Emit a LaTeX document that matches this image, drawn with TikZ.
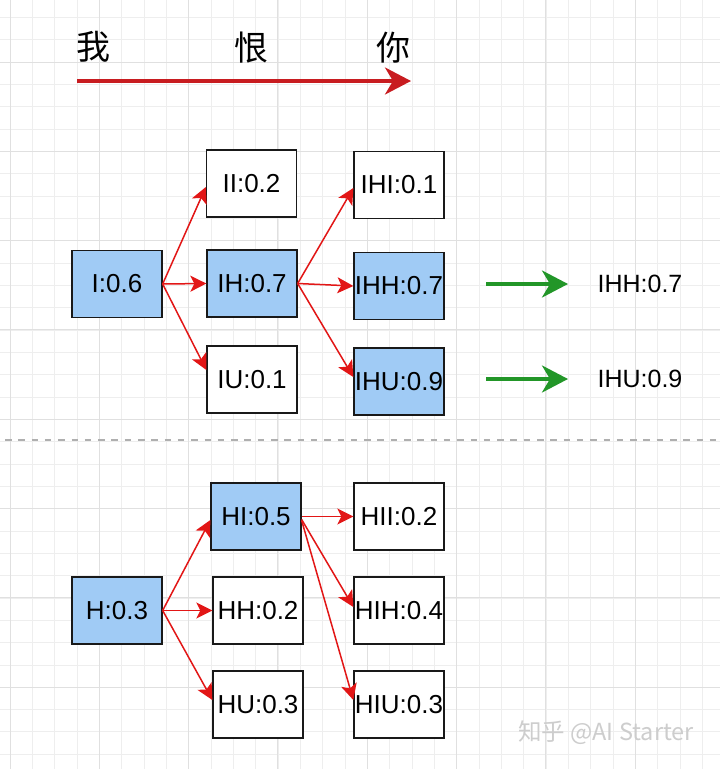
\documentclass[tikz,border=0pt]{standalone}
\usepackage{fontspec}
\setmainfont{Liberation Sans}
\newfontfamily\cjkfont{Noto Sans CJK SC}
\usetikzlibrary{arrows.meta,calc}
\definecolor{boxblue}{RGB}{160,203,245}
\definecolor{arrowred}{RGB}{226,22,22}
\definecolor{titlered}{RGB}{200,28,32}
\definecolor{arrowgreen}{RGB}{34,150,40}
\definecolor{gridminor}{RGB}{238,238,238}
\definecolor{gridmajor}{RGB}{224,224,224}
\definecolor{sepgray}{RGB}{175,175,175}
\definecolor{wmgray}{RGB}{205,205,205}
\tikzset{
  minorgrid/.style={draw=gridminor, line width=0.8pt},
  majorgrid/.style={draw=gridmajor, line width=1pt},
  box/.style={draw=black!90, line width=1.3pt, minimum width=90pt, minimum height=67pt,
    inner sep=0pt, font=\fontsize{26}{28}\selectfont},
  bluebox/.style={box, fill=boxblue},
  whitebox/.style={box, fill=white},
  redarrow/.style={draw=arrowred, line width=1.5pt,
    -{Stealth[length=16pt,width=16pt,inset=4pt]}},
  bigarrow/.style={line width=3.5pt, -{Stealth[length=26pt,width=27pt,inset=8pt]}},
  cjklabel/.style={font=\cjkfont\fontsize{34}{36}\selectfont, inner sep=0pt},
  reslabel/.style={font=\fontsize{25}{28}\selectfont, inner sep=0pt}
}
\begin{document}
\begin{tikzpicture}[x=1pt,y=-1pt]
\useasboundingbox (0,0) rectangle (720,769);
\fill[white] (0,0) rectangle (720,769);
% grid
\foreach \i in {0,...,32} {\draw[minorgrid] ({10+22.33*\i},0) -- ({10+22.33*\i},769);}
\foreach \i in {0,...,35} {\draw[minorgrid] (0,{-5+22.33*\i}) -- (720,{-5+22.33*\i});}
\foreach \i in {0,...,8} {\draw[majorgrid] ({10+89.3*\i},0) -- ({10+89.3*\i},769);}
\foreach \i in {0,...,8} {\draw[majorgrid] (0,{62+89.3*\i}) -- (720,{62+89.3*\i});}

% title
\node[cjklabel] (wo) at (93.5,47) {我};
\node[cjklabel] (hen) at (251,48) {恨};
\node[cjklabel] (ni) at (393,48) {你};
\coordinate (ts) at (77,81);
\coordinate (te) at (411,81);
\draw[bigarrow, draw=titlered, fill=titlered] (ts) -- (te);

% separator
\coordinate (sepl) at (5,440);
\coordinate (sepr) at (720,440);
\draw[sepgray, line width=1.3pt, dash pattern=on 6.5pt off 6.8pt] (sepl) -- (sepr);

% top tree
\node[bluebox] (I) at (117,284) {I:0.6};
\node[whitebox] (II) at (251.5,183.5) {II:0.2};
\node[bluebox] (IH) at (252,283.5) {IH:0.7};
\node[whitebox] (IU) at (252,379.5) {IU:0.1};
\node[whitebox] (IHI) at (399,185) {IHI:0.1};
\node[bluebox] (IHH) at (399,286) {IHH:0.7};
\node[bluebox] (IHU) at (399,381.5) {IHU:0.9};

\draw[redarrow] (I.east) -- ($(II.west)+(0,3.5)$);
\draw[redarrow] (I.east) -- (IH.west);
\draw[redarrow] (I.east) -- ($(IU.west)+(0,-9.5)$);
\draw[redarrow] (IH.east) -- ($(IHI.west)+(0,3)$);
\draw[redarrow] (IH.east) -- (IHH.west);
\draw[redarrow] (IH.east) -- ($(IHU.west)+(0,-4.5)$);

% results
\node[reslabel] (r1) at (640,284) {IHH:0.7};
\node[reslabel] (r2) at (640,379) {IHU:0.9};
\coordinate (g1) at (486,284);
\coordinate (g2) at (486,379);
\draw[bigarrow, draw=arrowgreen, fill=arrowgreen] (g1) -- ($(g1)+(82,0)$);
\draw[bigarrow, draw=arrowgreen, fill=arrowgreen] (g2) -- ($(g2)+(82,0)$);

% bottom tree
\node[bluebox] (H) at (117,610.5) {H:0.3};
\node[bluebox] (HI) at (256,516.5) {HI:0.5};
\node[whitebox] (HH) at (258,610.5) {HH:0.2};
\node[whitebox] (HU) at (258,704.5) {HU:0.3};
\node[whitebox] (HII) at (399,516.5) {HII:0.2};
\node[whitebox] (HIH) at (399,610.5) {HIH:0.4};
\node[whitebox] (HIU) at (399,704.5) {HIU:0.3};

\draw[redarrow] (H.east) -- ($(HI.west)+(0,3.5)$);
\draw[redarrow] (H.east) -- (HH.west);
\draw[redarrow] (H.east) -- ($(HU.west)+(0,-4.5)$);
\draw[redarrow] (HI.east) -- (HII.west);
\draw[redarrow] ($(HI.east)+(0,3)$) -- ($(HIH.west)+(0,-3.5)$);
\draw[redarrow] ($(HI.east)+(0,4)$) -- ($(HIU.west)+(0,-4.5)$);

% watermark
\node[font=\cjkfont\fontsize{23.5}{25}\selectfont, text=wmgray, inner sep=0pt] (wm) at (606,733) {知乎 @AI Starter};
\end{tikzpicture}
\end{document}
